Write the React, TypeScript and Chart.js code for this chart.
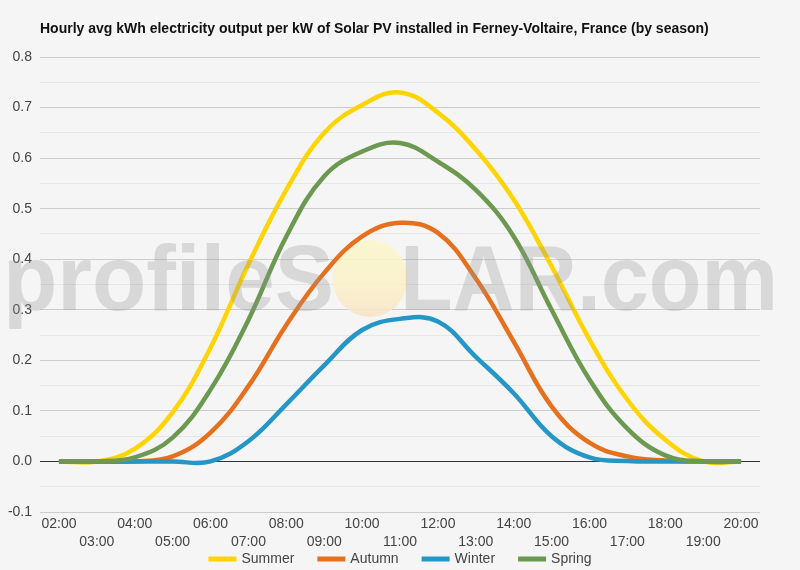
import React, { useEffect, useRef } from 'react';
import { Chart, registerables } from 'chart.js';

Chart.register(...registerables);

const TITLE = 'Hourly avg kWh electricity output per kW of Solar PV installed in Ferney-Voltaire, France (by season)';

const hours = ['02:00', '03:00', '04:00', '05:00', '06:00', '07:00', '08:00', '09:00', '10:00', '11:00', '12:00', '13:00', '14:00', '15:00', '16:00', '17:00', '18:00', '19:00', '20:00'];

const summer = [0, 0, 0.025, 0.097, 0.225, 0.39, 0.537, 0.65, 0.705, 0.73, 0.69, 0.617, 0.518, 0.386, 0.241, 0.122, 0.043, 0, 0];
const autumn = [0, 0, 0, 0.01, 0.057, 0.149, 0.27, 0.373, 0.445, 0.472, 0.452, 0.362, 0.237, 0.109, 0.037, 0.01, 0.002, 0, 0];
const winter = [0, 0, 0, 0, 0, 0.04, 0.113, 0.19, 0.26, 0.282, 0.277, 0.207, 0.135, 0.05, 0.008, 0.001, 0, 0, 0];
const spring = [0, 0, 0.008, 0.047, 0.142, 0.28, 0.445, 0.564, 0.613, 0.63, 0.593, 0.537, 0.445, 0.3, 0.162, 0.065, 0.012, 0, 0];

const seriesNames = ['Summer', 'Autumn', 'Winter', 'Spring'];
const seriesColors = ['#ffd400', '#e5711e', '#2596c6', '#6b9950'];
const seriesOrder = [3, 2, 1, 0];

const yMin = -0.1;
const yMax = 0.8;

const FONT = '"Liberation Sans", Arial, Helvetica, sans-serif';

export default function App() {
  const ref = useRef<HTMLCanvasElement>(null);

  useEffect(() => {
    if (!ref.current) return;

    const titlePlugin = {
      id: 'customTitle',
      afterDraw(chart: any) {
        const ctx = chart.ctx;
        ctx.save();
        ctx.font = `bold 14px ${FONT}`;
        ctx.fillStyle = '#111';
        ctx.textAlign = 'left';
        ctx.textBaseline = 'alphabetic';
        ctx.fillText(TITLE, 40, 33);
        ctx.restore();
      },
    };

    const sunPlugin = {
      id: 'sun',
      beforeDatasetsDraw(chart: any) {
        const ctx = chart.ctx;
        ctx.save();
        const g = ctx.createLinearGradient(0, 240, 0, 317);
        g.addColorStop(0, 'rgba(251,246,200,0.85)');
        g.addColorStop(0.6, 'rgba(250,240,200,0.85)');
        g.addColorStop(1, 'rgba(248,226,196,0.85)');
        ctx.fillStyle = g;
        ctx.beginPath();
        ctx.ellipse(370, 278.5, 37.5, 38.5, 0, 0, Math.PI * 2);
        ctx.fill();
        ctx.restore();
      },
    };

    const watermarkPlugin = {
      id: 'watermark',
      afterDatasetsDraw(chart: any) {
        const ctx = chart.ctx;
        ctx.save();
        ctx.font = `bold 93px ${FONT}`;
        ctx.fillStyle = 'rgba(150,150,150,0.3)';
        ctx.textBaseline = 'alphabetic';
        ctx.textAlign = 'left';
        const drawFit = (txt: string, x0: number, x1: number) => {
          const w = ctx.measureText(txt).width;
          const sx = (x1 - x0) / w;
          ctx.save();
          ctx.translate(x0, 310);
          ctx.scale(sx, 1);
          ctx.fillText(txt, 0, 0);
          ctx.restore();
        };
        drawFit('profileS', 3, 334);
        drawFit('LAR.com', 400, 778);
        ctx.restore();
      },
    };

    const legendPlugin = {
      id: 'customLegend',
      afterDraw(chart: any) {
        const ctx = chart.ctx;
        ctx.save();
        ctx.font = `14px ${FONT}`;
        ctx.textBaseline = 'middle';
        ctx.textAlign = 'left';
        const sw = 28;
        const gap = 5;
        const itemGap = 23;
        const ds = chart.data.datasets;
        const widths = ds.map((d: any) => sw + gap + ctx.measureText(d.label).width);
        const total = widths.reduce((a: number, b: number) => a + b, 0) + itemGap * (ds.length - 1);
        let x = 400 - total / 2;
        const yc = 559;
        ds.forEach((d: any, i: number) => {
          ctx.fillStyle = d.borderColor;
          ctx.fillRect(x, yc - 2.5, sw, 5);
          ctx.fillStyle = '#444';
          ctx.fillText(d.label, x + sw + gap, yc);
          x += widths[i] + itemGap;
        });
        ctx.restore();
      },
    };

    const seriesData = [summer, autumn, winter, spring];

    const chart = new Chart(ref.current, {
      type: 'line',
      data: {
        labels: hours,
        datasets: seriesData.map((d, i) => ({
          label: seriesNames[i],
          data: d,
          borderColor: seriesColors[i],
          backgroundColor: seriesColors[i],
          borderWidth: 4.5,
          pointRadius: 0,
          pointHoverRadius: 0,
          tension: 0.4,
          fill: false,
          order: seriesOrder[i],
        })),
      },
      options: {
        responsive: false,
        animation: false,
        layout: { padding: { top: 57, right: 40, bottom: 0, left: 0 } },
        plugins: {
          legend: { display: false },
          title: { display: false },
          tooltip: { enabled: false },
        },
        scales: {
          x: {
            type: 'category',
            offset: true,
            grid: { display: false, drawTicks: false },
            border: { display: false },
            afterFit(scale: any) {
              scale.height = 58;
            },
            ticks: {
              autoSkip: false,
              maxRotation: 0,
              minRotation: 0,
              padding: 3,
              color: '#444',
              font: { family: FONT, size: 14, lineHeight: 1.29 },
              callback(this: any, value: any, index: number) {
                const lbl = hours[index];
                return index % 2 === 0 ? lbl : ['', lbl];
              },
            },
          },
          y: {
            min: yMin,
            max: yMax,
            grid: {
              drawTicks: false,
              lineWidth: 1,
              color(ctx: any) {
                const v = Math.round((ctx.tick?.value ?? 0) * 100);
                if (v === 0) return '#333';
                if (v % 10 === 0) return '#cccccc';
                return '#e6e6e6';
              },
            },
            border: { display: false },
            afterFit(scale: any) {
              scale.width = 40;
            },
            ticks: {
              stepSize: 0.05,
              padding: 8,
              color: '#444',
              font: { family: FONT, size: 14 },
              callback(value: any) {
                const v = Math.round(Number(value) * 100);
                if (v % 10 !== 0) return '';
                return (v / 100).toFixed(1);
              },
            },
          },
        },
      } as any,
      plugins: [sunPlugin, watermarkPlugin, titlePlugin, legendPlugin],
    });

    return () => chart.destroy();
  }, []);

  return (
    <div style={{ position: 'fixed', left: 0, top: 0, width: 800, height: 570, background: '#f5f5f5' }}>
      <canvas ref={ref} width={800} height={570} style={{ display: 'block', width: 800, height: 570 }} />
    </div>
  );
}
